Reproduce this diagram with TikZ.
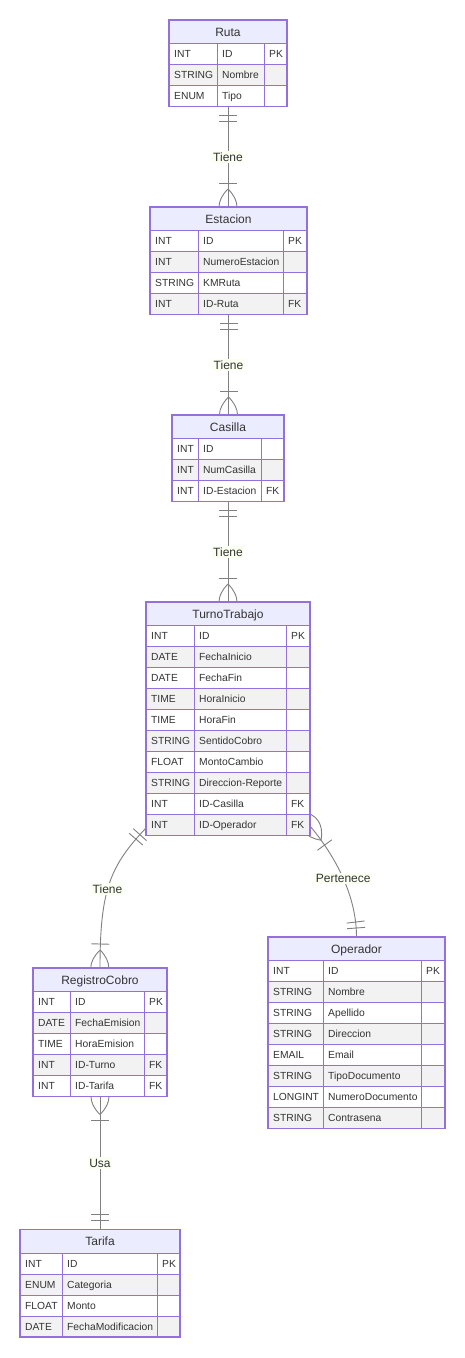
\documentclass[tikz,border=0pt]{standalone}
\usepackage{fontspec}
\setmainfont{Liberation Sans}
\usetikzlibrary{decorations.markings,fit}
\pgfdeclarelayer{back}
\pgfdeclarelayer{conn}
\pgfsetlayers{back,conn,main}

\definecolor{erborder}{HTML}{9370DB}
\definecolor{erhead}{HTML}{ECECFF}
\definecolor{eralt}{HTML}{F2F2F2}
\definecolor{ertext}{HTML}{333333}
\definecolor{erline}{HTML}{808080}
\definecolor{erlbl}{RGB}{251,255,242}

\tikzset{
  cell/.style={draw=erborder, line width=0.9pt},
  outer/.style={draw=erborder, line width=1.3pt},
  attr/.style={anchor=west, inner sep=0pt, text=ertext, font=\fontsize{10.3}{12}\selectfont, text height=7.4pt, text depth=0pt},
  headtxt/.style={inner sep=0pt, text=ertext, font=\fontsize{12}{14}\selectfont, text height=8.6pt, text depth=0pt},
  tablebox/.style={inner sep=0pt, outer sep=0pt, draw=none},
  rel/.style={draw=erline, line width=0.9pt},
  lbl/.style={fill=erlbl, text=ertext, font=\fontsize{12}{14}\selectfont, inner sep=1.5pt},
  bar/.style={draw=erline, line width=0.9pt},
  one start/.style={postaction={decorate, decoration={markings,
     mark=at position 9pt with {\draw[bar] (0,-9) -- (0,9);},
     mark=at position 15pt with {\draw[bar] (0,-9) -- (0,9);}}}},
  one end/.style={postaction={decorate, decoration={markings,
     mark=at position -15pt with {\draw[bar] (0,-9) -- (0,9);},
     mark=at position -9pt with {\draw[bar] (0,-9) -- (0,9);}}}},
  many start/.style={postaction={decorate, decoration={markings,
     mark=at position 18pt with {\draw[bar] (0,0) .. controls (-12,12) and (-24,12) .. (-36,0) .. controls (-24,-12) and (-12,-12) .. (0,0); \draw[bar] (6,-9) -- (6,9);}}}},
  many end/.style={postaction={decorate, decoration={markings,
     mark=at position -18pt with {\draw[bar] (0,0) .. controls (12,12) and (24,12) .. (36,0) .. controls (24,-12) and (12,-12) .. (0,0); \draw[bar] (-6,-9) -- (-6,9);}}}},
}

\newcommand\ertable[7]{%
  \def\ername{#1}\def\erxl{#2}\def\erda{#3}\def\erdb{#4}\def\erxr{#5}\def\ertop{#6}%
  \pgfmathsetmacro\erhb{#6+23.5}%
  \pgfmathsetmacro\erhm{#6+11.75}%
  \pgfmathsetmacro\erhx{(#2+#5)/2}%
  \draw[cell, fill=erhead] (\erxl,\ertop) rectangle (\erxr,\erhb);%
  \node[headtxt] (#1-title) at (\erhx,\erhm) {#7};%
}
\newcommand\errow[5]{%
  \pgfmathsetmacro\erya{\ertop+23.5+21*(#1-1)}%
  \pgfmathsetmacro\eryb{\erya+21}%
  \pgfmathsetmacro\erym{\erya+10.5}%
  \pgfmathsetmacro\erta{\erxl+5}%
  \pgfmathsetmacro\ertb{\erda+5}%
  \pgfmathsetmacro\ertc{\erdb+5}%
  \draw[cell, fill=#2] (\erxl,\erya) rectangle (\erda,\eryb);
  \draw[cell, fill=#2] (\erda,\erya) rectangle (\erdb,\eryb);
  \draw[cell, fill=#2] (\erdb,\erya) rectangle (\erxr,\eryb);
  \node[attr] (\ername-#1-type) at (\erta,\erym) {#3};
  \node[attr] (\ername-#1-name) at (\ertb,\erym) {#4};
  \node[attr] (\ername-#1-key) at (\ertc,\erym) {#5};
}
\newcommand\erclose[1]{%
  \pgfmathsetmacro\erbot{\ertop+23.5+21*#1}%
  \draw[outer] (\erxl,\ertop) rectangle (\erxr,\erbot);
  \coordinate (\ername-nw) at (\erxl,\ertop);
  \coordinate (\ername-se) at (\erxr,\erbot);
  \node[tablebox, fit=(\ername-nw)(\ername-se)] (\ername) {};
}

\begin{document}
\begin{tikzpicture}[x=1pt,y=-1pt]
\useasboundingbox (0,0) rectangle (465,1358);
\begin{pgfonlayer}{back}
\fill[white] (0,0) rectangle (465,1358);
\end{pgfonlayer}

\ertable{Ruta}{169}{217}{264}{287}{20}{Ruta}
\errow{1}{white}{INT}{ID}{PK}
\errow{2}{eralt}{STRING}{Nombre}{}
\errow{3}{white}{ENUM}{Tipo}{}
\erclose{3}

\ertable{Estacion}{150}{198}{283}{307}{207}{Estacion}
\errow{1}{white}{INT}{ID}{PK}
\errow{2}{eralt}{INT}{NumeroEstacion}{}
\errow{3}{white}{STRING}{KMRuta}{}
\errow{4}{eralt}{INT}{ID-Ruta}{FK}
\erclose{4}

\ertable{Casilla}{172}{198}{261}{284}{415}{Casilla}
\errow{1}{white}{INT}{ID}{}
\errow{2}{eralt}{INT}{NumCasilla}{}
\errow{3}{white}{INT}{ID-Estacion}{FK}
\erclose{3}

\ertable{TurnoTrabajo}{146}{194}{286}{310}{602}{TurnoTrabajo}
\errow{1}{white}{INT}{ID}{PK}
\errow{2}{eralt}{DATE}{FechaInicio}{}
\errow{3}{white}{DATE}{FechaFin}{}
\errow{4}{eralt}{TIME}{HoraInicio}{}
\errow{5}{white}{TIME}{HoraFin}{}
\errow{6}{eralt}{STRING}{SentidoCobro}{}
\errow{7}{white}{FLOAT}{MontoCambio}{}
\errow{8}{eralt}{STRING}{Direccion-Reporte}{}
\errow{9}{white}{INT}{ID-Casilla}{FK}
\errow{10}{eralt}{INT}{ID-Operador}{FK}
\erclose{10}

\ertable{RegistroCobro}{33}{70}{144}{167}{968}{RegistroCobro}
\errow{1}{white}{INT}{ID}{PK}
\errow{2}{eralt}{DATE}{FechaEmision}{}
\errow{3}{white}{TIME}{HoraEmision}{}
\errow{4}{eralt}{INT}{ID-Turno}{FK}
\errow{5}{white}{INT}{ID-Tarifa}{FK}
\erclose{5}

\ertable{Operador}{268}{323}{421}{445}{937}{Operador}
\errow{1}{white}{INT}{ID}{PK}
\errow{2}{eralt}{STRING}{Nombre}{}
\errow{3}{white}{STRING}{Apellido}{}
\errow{4}{eralt}{STRING}{Direccion}{}
\errow{5}{white}{EMAIL}{Email}{}
\errow{6}{eralt}{STRING}{TipoDocumento}{}
\errow{7}{white}{LONGINT}{NumeroDocumento}{}
\errow{8}{eralt}{STRING}{Contrasena}{}
\erclose{8}

\ertable{Tarifa}{20}{62}{157}{180}{1229.5}{Tarifa}
\errow{1}{white}{INT}{ID}{PK}
\errow{2}{eralt}{ENUM}{Categoria}{}
\errow{3}{white}{FLOAT}{Monto}{}
\errow{4}{eralt}{DATE}{FechaModificacion}{}
\erclose{4}

\begin{pgfonlayer}{conn}
\draw[rel, one start, many end] (Ruta.south) -- node[lbl] (lblA) {Tiene} (Ruta.south |- Estacion.north);
\draw[rel, one start, many end] (Estacion.south) -- node[lbl] (lblB) {Tiene} (Estacion.south |- Casilla.north);
\draw[rel, one start, many end] (Casilla.south) -- node[lbl] (lblC) {Tiene} (Casilla.south |- TurnoTrabajo.north);
\coordinate (tl) at (146,828);
\draw[rel, one start, many end] (tl) .. controls (110,866) and (100,890) .. node[lbl, pos=0.55] (lblD) {Tiene} (RegistroCobro.north);
\coordinate (tr) at (310,826);
\draw[rel, many start, one end] (tr) .. controls (329.4,848.9) and (356.5,890) .. node[lbl, pos=0.55] (lblE) {Pertenece} (Operador.north);
\draw[rel, many start, one end] (RegistroCobro.south) -- node[lbl] (lblF) {Usa} (RegistroCobro.south |- Tarifa.north);
\end{pgfonlayer}
\end{tikzpicture}
\end{document}
